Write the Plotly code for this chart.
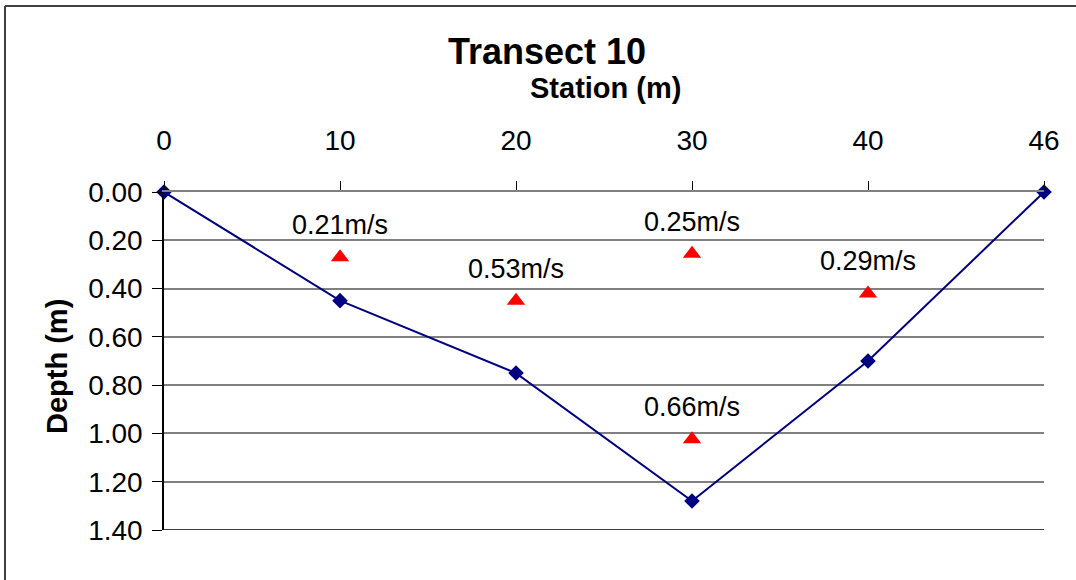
import plotly.graph_objects as go

# Data
stations = ["0", "10", "20", "30", "40", "46"]
depth = [0.00, 0.45, 0.75, 1.28, 0.70, 0.00]

vel_stations = ["10", "20", "30", "30", "40"]
vel_depth = [0.27, 0.45, 0.256, 1.024, 0.42]
vel_labels = ["0.21m/s", "0.53m/s", "0.25m/s", "0.66m/s", "0.29m/s"]

y_ticks = [0.0, 0.2, 0.4, 0.6, 0.8, 1.0, 1.2, 1.4]

W, H = 1076, 580
L, R, T, B = 164, 1076 - 1044, 192, 580 - 530
pw, ph = W - L - R, H - T - B

def px_x(p):
    return (p - L) / pw

def px_y(p):
    return 1 - (p - T) / ph

FONT = "Liberation Sans, Arial, sans-serif"

fig = go.Figure()

fig.add_trace(go.Scatter(
    x=stations, y=depth, mode="lines+markers",
    line=dict(color="#000080", width=2),
    marker=dict(symbol="diamond", size=12, color="#000080"),
    cliponaxis=False, showlegend=False,
))

fig.add_trace(go.Scatter(
    x=vel_stations, y=vel_depth, mode="markers",
    marker=dict(symbol="triangle-up", size=16, color="#ff0000"),
    cliponaxis=False, showlegend=False,
))

for xs, yv, lab in zip(vel_stations, vel_depth, vel_labels):
    fig.add_annotation(x=stations.index(xs), y=yv, text=lab, showarrow=False,
                       yshift=32, xanchor="center", yanchor="middle",
                       font=dict(family=FONT, size=27, color="#000000"))

# Bottom gridline at 1.40
fig.add_shape(type="line", xref="paper", yref="y",
              x0=0, x1=1, y0=y_ticks[-1], y1=y_ticks[-1],
              line=dict(color="#000000", width=1.5), layer="below")

# Titles
fig.add_annotation(text="<b>Transect 10</b>", xref="paper", yref="paper",
                   x=px_x(547), y=px_y(51), showarrow=False,
                   xanchor="center", yanchor="middle",
                   font=dict(family=FONT, size=36, color="#000000"))
fig.add_annotation(text="<b>Station (m)</b>", xref="paper", yref="paper",
                   x=px_x(605), y=px_y(88), showarrow=False,
                   xanchor="center", yanchor="middle",
                   font=dict(family=FONT, size=29, color="#000000"))
fig.add_annotation(text="<b>Depth (m)</b>", xref="paper", yref="paper",
                   x=px_x(57), y=px_y(367), showarrow=False, textangle=-90,
                   xanchor="center", yanchor="middle",
                   font=dict(family=FONT, size=29, color="#000000"))

# Outer border (left and top)
fig.add_shape(type="line", xref="paper", yref="paper",
              x0=px_x(5), x1=px_x(5), y0=px_y(6), y1=px_y(600),
              line=dict(color="#404040", width=2))
fig.add_shape(type="line", xref="paper", yref="paper",
              x0=px_x(5), x1=px_x(1100), y0=px_y(6), y1=px_y(6),
              line=dict(color="#404040", width=2))

fig.update_xaxes(
    type="category", categoryorder="array", categoryarray=stations,
    side="top", range=[0, len(stations) - 1],
    showgrid=False, zeroline=False,
    showline=True, linecolor="#808080", linewidth=2,
    ticks="outside", ticklen=9, tickcolor="#000000", tickwidth=1,
    ticklabelstandoff=20,
    tickfont=dict(family=FONT, size=28, color="#000000"),
)
fig.update_yaxes(
    autorange=False, range=[1.4, 0.0],
    tickvals=y_ticks, ticktext=[f"{v:.2f}" for v in y_ticks],
    showgrid=True, gridcolor="#808080", gridwidth=1.5,
    zeroline=False,
    showline=True, linecolor="#000000", linewidth=1.5,
    ticks="outside", ticklen=10, tickcolor="#000000", tickwidth=1,
    ticklabelstandoff=4,
    tickfont=dict(family=FONT, size=28, color="#000000"),
)

fig.update_layout(
    width=W, height=H,
    margin=dict(l=L, r=R, t=T, b=B),
    paper_bgcolor="#ffffff", plot_bgcolor="#ffffff",
    showlegend=False,
)

fig.write_html("out.html")
